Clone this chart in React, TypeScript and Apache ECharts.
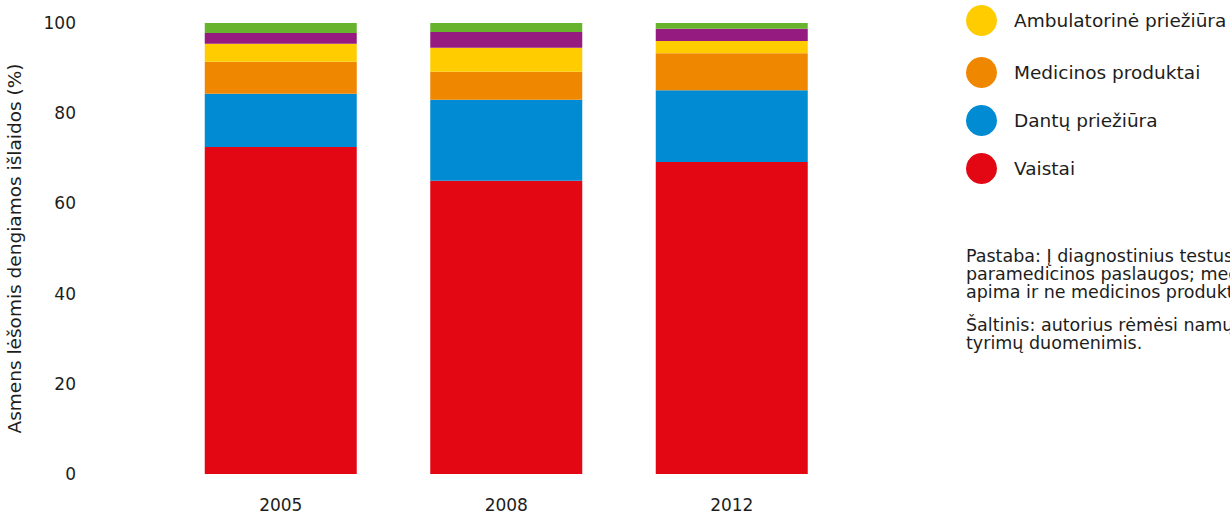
import React, { useEffect, useRef } from "react";
import * as echarts from "echarts";

const years = ["2005", "2008", "2012"];
const vaistai = [72.5, 65.0, 69.2];
const dantuPrieziura = [11.8, 18.0, 15.9];
const medicinosProduktai = [7.1, 6.2, 8.2];
const ambulatorine = [4.0, 5.3, 2.7];
const diagnostiniaiTestai = [2.4, 3.5, 2.7];
const stacionarine = [2.2, 2.0, 1.3];

const seriesNames = [
  "Vaistai",
  "Dantų priežiūra",
  "Medicinos produktai",
  "Ambulatorinė priežiūra",
  "Diagnostiniai testai",
  "Stacionarinė priežiūra",
];
const seriesColors = ["#E30613", "#008BD2", "#F08700", "#FFCC00", "#951B81", "#67B32E"];
const seriesData = [
  vaistai,
  dantuPrieziura,
  medicinosProduktai,
  ambulatorine,
  diagnostiniaiTestai,
  stacionarine,
];
const legendTop = ["Ambulatorinė priežiūra"];
const legendRest = ["Medicinos produktai", "Dantų priežiūra", "Vaistai"];

const yAxisTitle = "Asmens lėšomis dengiamos išlaidos (%)";
const noteText =
  "Pastaba: Į diagnostinius testus įtrauktos ir\nparamedicinos paslaugos; medicinos produktai\napima ir ne medicinos produktus.";
const sourceText = "Šaltinis: autorius rėmėsi namų ūkių biudžeto\ntyrimų duomenimis.";

const FONT = "'DejaVu Sans', sans-serif";
const TEXT_COLOR = "#1d1d1b";

export default function App() {
  const ref = useRef<HTMLDivElement>(null);

  useEffect(() => {
    if (!ref.current) return;
    const chart = echarts.init(ref.current, undefined, { renderer: "svg" });
    const legendBase = {
      orient: "vertical",
      left: 966,
      padding: 0,
      icon: "circle",
      itemWidth: 31,
      itemHeight: 31,
      itemGap: 17,
      selectedMode: false,
      textStyle: { fontFamily: FONT, fontSize: 18.5, color: TEXT_COLOR, padding: [0, 0, 0, 12] },
    };
    chart.setOption({
      animation: false,
      textStyle: { fontFamily: FONT, color: TEXT_COLOR },
      grid: {
        left: 168,
        width: 676.5,
        top: 23,
        height: 451,
        containLabel: false,
        outerBoundsMode: "none",
      },
      legend: [
        { ...legendBase, data: legendTop, top: 5 },
        { ...legendBase, data: legendRest, top: 57 },
      ],
      xAxis: {
        type: "category",
        data: years,
        axisLine: { show: false },
        axisTick: { show: false },
        axisLabel: { fontFamily: FONT, fontSize: 17, color: TEXT_COLOR, margin: 22 },
      },
      yAxis: {
        type: "value",
        min: 0,
        max: 100,
        interval: 20,
        axisLine: { show: false },
        axisTick: { show: false },
        splitLine: { show: false },
        axisLabel: { fontFamily: FONT, fontSize: 17, color: TEXT_COLOR, margin: 92, align: "right" },
        name: yAxisTitle,
        nameLocation: "middle",
        nameRotate: 90,
        nameGap: 144,
        nameTextStyle: { fontFamily: FONT, fontSize: 18.5, color: TEXT_COLOR },
      },
      graphic: [
        {
          type: "text",
          left: 966,
          top: 247,
          style: {
            text: noteText,
            font: `17.5px ${FONT}`,
            fill: TEXT_COLOR,
            lineHeight: 18,
          },
        },
        {
          type: "text",
          left: 966,
          top: 316,
          style: {
            text: sourceText,
            font: `17.5px ${FONT}`,
            fill: TEXT_COLOR,
            lineHeight: 18,
          },
        },
      ],
      series: seriesNames.map((name, i) => ({
        name,
        type: "bar",
        stack: "total",
        barWidth: 152,
        data: seriesData[i],
        itemStyle: { color: seriesColors[i] },
      })),
    });
    return () => chart.dispose();
  }, []);

  return (
    <div
      ref={ref}
      style={{ position: "fixed", left: 0, top: 0, width: 1230, height: 513, background: "#fff" }}
    />
  );
}
